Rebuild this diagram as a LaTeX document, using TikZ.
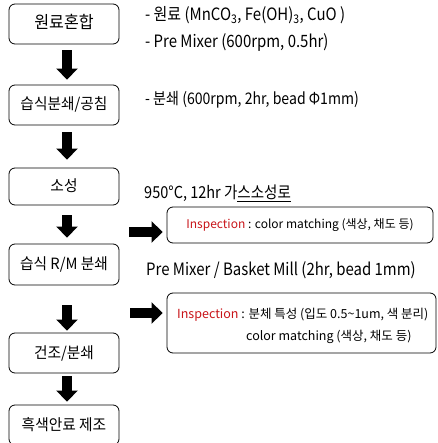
\documentclass[tikz,border=0pt]{standalone}
\usepackage{fontspec}
\setmainfont{Noto Sans CJK KR}
\newfontfamily\boxfont[FakeStretch=0.95]{Noto Sans CJK KR}
\newfontfamily\condfont[FakeStretch=0.88]{Noto Sans CJK KR}
\usetikzlibrary{arrows.meta,calc}
\definecolor{insred}{RGB}{200,20,25}
\begin{document}
\begin{tikzpicture}[x=1pt,y=-1pt,
  stepbox/.style={draw, rounded corners=6pt, line width=0.8pt, minimum width=110pt, inner sep=0pt, text height=1em, text depth=0pt, font=\boxfont\fontsize{15.5}{18}\selectfont},
  insbox/.style={draw, rounded corners=6pt, line width=0.8pt, inner sep=0pt},
  desc/.style={anchor=west, inner sep=0pt, font=\condfont\fontsize{17}{19}\selectfont},
  instext/.style={anchor=west, inner sep=0pt, font=\fontsize{12.5}{15}\selectfont},
  blockarrow/.style={line width=10pt, -{Triangle[width=21pt,length=11pt]}}]
\useasboundingbox (0,0) rectangle (437,443);
% process boxes
\node[stepbox, minimum height=40pt, font=\boxfont\fontsize{17}{19}\selectfont] (b1) at (64,24) {원료혼합};
\node[stepbox, minimum height=40pt] (b2) at (64,105) {습식분쇄/공침};
\node[stepbox, minimum height=37pt] (b3) at (64,186.5) {소성};
\node[stepbox, minimum height=41pt] (b4) at (64,264.5) {습식 R/M 분쇄};
\node[stepbox, minimum height=40pt] (b5) at (64,353) {건조/분쇄};
\node[stepbox, minimum height=40pt] (b6) at (64,425) {흑색안료 제조};
% down arrows
\draw[blockarrow] ([xshift=3pt,yshift=-6pt]b1.south) -- ([xshift=3pt,yshift=5pt]b2.north);
\draw[blockarrow] ([xshift=3pt,yshift=-7pt]b2.south) -- ([xshift=3pt,yshift=8pt]b3.north);
\draw[blockarrow] ([xshift=3pt,yshift=-10pt]b3.south) -- ([xshift=3pt,yshift=6pt]b4.north);
\draw[blockarrow] ([xshift=3pt,yshift=-20pt]b4.south) -- ([xshift=3pt,yshift=2pt]b5.north);
\draw[blockarrow] ([xshift=3pt,yshift=-3pt]b5.south) -- ([xshift=3pt,yshift=3pt]b6.north);
% descriptions
\node[desc] (t1) at (145,15) {- 원료 (MnCO\textsubscript{3}, Fe(OH)\textsubscript{3}, CuO )};
\node[desc] (t2) at (145,42) {- Pre Mixer (600rpm, 0.5hr)};
\node[desc, font=\condfont\fontsize{16}{18}\selectfont] (t3) at (145,100) {- 분쇄 (600rpm, 2hr, bead Φ1mm)};
\node[desc, font=\condfont\fontsize{16.5}{18}\selectfont] (t4) at (144,193) {950°C, 12hr 가\underline{스소성로}};
\node[desc] (t5) at (146,270) {Pre Mixer / Basket Mill (2hr, bead 1mm)};
% inspection boxes
\node[insbox, minimum width=266pt, minimum height=36pt, font=\fontsize{12}{14}\selectfont] (ins1) at (300,225) {\textcolor{insred}{Inspection} : color matching (색상, 채도 등)};
\node[insbox, minimum width=269pt, minimum height=60pt] (ins2) at (301.5,323) {};
\node[instext] (i2a) at (177,315) {\textcolor{insred}{Inspection} : 분체 특성 (입도 0.5\textasciitilde 1um, 색 분리)};
\node[instext] (i2b) at (246,337) {color matching (색상, 채도 등)};
% right arrows
\coordinate (r1) at (129,232);
\coordinate (r2) at (130,313);
\draw[blockarrow] (r1) -- ($(r1 -| ins1.west)+(-4,0)$);
\draw[blockarrow] (r2) -- ($(r2 -| ins2.west)+(-4,0)$);
\end{tikzpicture}
\end{document}
